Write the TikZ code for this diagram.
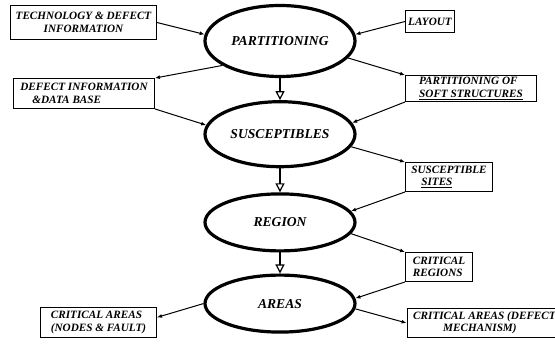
\documentclass[tikz,border=0pt]{standalone}
\usepackage{fontspec}
\setmainfont{Liberation Serif}
\usetikzlibrary{shapes, arrows.meta}
\usetikzlibrary{positioning}

\newcommand{\stagefont}{\fontsize{13.6}{15}\selectfont\bfseries\itshape}
\newcommand{\infofont}{\fontsize{11.2}{12.6}\selectfont\bfseries\itshape}

\begin{document}
\begin{tikzpicture}[x=1pt,y=1pt,
		    stage/.style={draw,ellipse,line width=3.2pt,minimum width=150pt,font=\stagefont},
		    info/.style={draw,rectangle,line width=0.9pt,align=left,inner sep=1.5pt,font=\infofont},
		    link/.style={line width=1pt,-{Latex[length=5pt,width=4pt]}},
		    flow/.style={line width=2.8pt,-{Triangle[open,length=9pt,width=9pt,line width=1.2pt]}}]
		    \useasboundingbox (0,0) rectangle (555,345);
		    \node(part) [stage,minimum height=71pt] at (280,304) {PARTITIONING};
		    \node(susc) [stage,minimum height=65pt,below = 22pt of part] {SUSCEPTIBLES};
		    \node(reg) [stage,minimum height=57pt,below = 24pt of susc] {REGION};
		    \node(areas) [stage,minimum height=57pt,below = 21pt of reg] {AREAS};
		    
		    \node(tech) [info,align=center,minimum width=146pt,minimum height=34pt] at (83.5,322.5) {TECHNOLOGY \& DEFECT\\INFORMATION};
		    \node(layout) [info,minimum width=49pt,minimum height=22pt] at (430,323.5) {LAYOUT};
		    \node(dib) [info,minimum width=141pt,minimum height=30pt] at (84,251.5) {DEFECT INFORMATION\\\hspace*{12pt}\&DATA BASE};
		    \node(pos) [info,minimum width=131pt,minimum height=26pt] at (471,256.5) {PARTITIONING OF\\\underline{SOFT STRUCTURES}};
		    \node(sites) [info,minimum width=87pt,minimum height=29pt] at (449,168) {SUSCEPTIBLE\\\hspace*{10pt}\underline{SITES}};
		    \node(critreg) [info,minimum width=67pt,minimum height=29pt] at (439,78) {CRITICAL\\REGIONS};
		    \node(cad) [info,minimum width=155pt,minimum height=29pt] at (484.5,22) {CRITICAL AREAS (DEFECT\\\hspace*{30pt}MECHANISM)};
		    \node(nf) [info,minimum width=116pt,minimum height=30pt] at (98.5,22.5) {CRITICAL AREAS\\(NODES \& FAULT)};
		    
		    \draw[flow] (part) -- (susc);
		    \draw[flow] (susc) -- (reg);
		    \draw[flow] (reg) -- (areas);
		    
		    \draw[link] (tech.east) -- (part.175);
		    \draw[link] (layout.west) -- (part.5);
		    \draw[link] (part.203) -- (dib.north east);
		    \draw[link] (dib.south east) -- (susc.173);
		    \draw[link] (part.346) -- (pos.north west);
		    \draw[link] (pos.south west) -- (susc.9);
		    \draw[link] (susc.350) -- (sites.north west);
		    \draw[link] (sites.south west) -- (reg.9);
		    \draw[link] (reg.351) -- (critreg.north west);
		    \draw[link] (critreg.south west) -- (areas.4);
		    \draw[link] (areas.356) -- (cad.west);
		    \draw[link] (areas.180) -- (nf.5);
\end{tikzpicture}
\end{document}
